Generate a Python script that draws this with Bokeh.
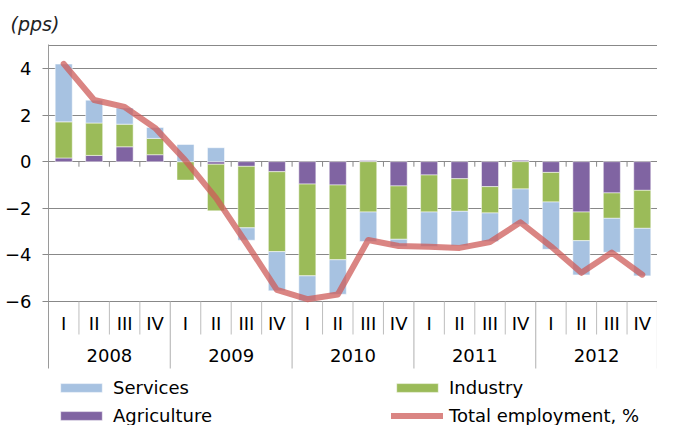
from bokeh.plotting import figure
from bokeh.models import Range1d, FixedTicker, Legend, LegendItem, ColumnDataSource
from bokeh.core.properties import value
from bokeh.embed import file_html
from bokeh.resources import INLINE

# ---------------- data ----------------
years = ["2008", "2009", "2010", "2011", "2012"]
quarters = ["I", "II", "III", "IV"]
agriculture = [0.16, 0.27, 0.64, 0.30, 0.00, -0.11, -0.20, -0.43, -0.96, -1.00,
               0.05, -1.04, -0.57, -0.73, -1.07, 0.06, -0.46, -2.16, -1.34, -1.23]
industry = [1.55, 1.39, 0.97, 0.70, -0.79, -2.00, -2.64, -3.43, -3.94, -3.21,
            -2.16, -2.29, -1.59, -1.40, -1.13, -1.17, -1.27, -1.23, -1.09, -1.63]
services = [2.48, 0.98, 0.70, 0.47, 0.74, 0.60, -0.53, -1.68, -1.07, -1.48,
            -1.27, -0.31, -1.48, -1.48, -1.23, -1.52, -2.03, -1.47, -1.46, -2.04]
total = [4.20, 2.65, 2.35, 1.45, 0.05, -1.55, -3.50, -5.50, -5.90, -5.70,
         -3.36, -3.62, -3.65, -3.70, -3.45, -2.60, -3.63, -4.77, -3.90, -4.85]
y_ticks = [-6, -4, -2, 0, 2, 4]

# ---------------- style ----------------
FONT = "DejaVu Sans"
FS = "18px"
C_SERV = "#a7c2e1"
C_IND = "#9bbb59"
C_AGR = "#8064a2"
C_TOT = "#cd5c5a"
GRID = "#888888"
SEP = "#bdbdbd"

W, H = 657, 425
BL, BT = 48, 44
FRAME_H = H - BT
PX = 23.3                      # pixels per unit
Y_TOP = 5.03
Y_BOT = Y_TOP - FRAME_H / PX

n = len(years) * len(quarters)
xc = [i + 0.5 for i in range(n)]

# stacked, positives and negatives separately
pos = [0.0] * n
neg = [0.0] * n
stacks = {}
for name, vals in [("Agriculture", agriculture), ("Industry", industry), ("Services", services)]:
    b, t = [], []
    for i, v in enumerate(vals):
        if v >= 0:
            b.append(pos[i]); t.append(pos[i] + v); pos[i] += v
        else:
            b.append(neg[i]); t.append(neg[i] + v); neg[i] += v
    stacks[name] = (b, t)

p = figure(width=W, height=H, output_backend="svg", toolbar_location=None,
           x_range=Range1d(0, n), y_range=Range1d(Y_BOT, Y_TOP),
           x_axis_location=None, min_border_left=BL, min_border_right=0,
           min_border_top=BT, min_border_bottom=0)
p.outline_line_color = None
p.background_fill_color = "white"
p.xgrid.visible = False
p.ygrid.ticker = FixedTicker(ticks=y_ticks + [5])
p.ygrid.grid_line_color = GRID
p.ygrid.grid_line_width = 1

ax = p.yaxis[0]
ax.ticker = FixedTicker(ticks=y_ticks)
ax.minor_tick_line_color = None
ax.major_tick_out = 6
ax.major_tick_in = 0
ax.major_tick_line_color = GRID
ax.axis_line_color = "#9a9a9a"
ax.major_label_text_font = FONT
ax.major_label_text_font_size = FS
ax.major_label_text_color = "black"
ax.major_label_standoff = 11

# title
p.title.text = "(pps)"
p.title.text_font = FONT
p.title.text_font_style = "italic"
p.title.text_font_size = "19px"
p.title.text_color = "#222222"
p.title.align = "left"
p.title.offset = -38
p.title.standoff = 20

# bars
colors = {"Agriculture": C_AGR, "Industry": C_IND, "Services": C_SERV}
rend = {}
for name in ["Agriculture", "Industry", "Services"]:
    b, t = stacks[name]
    rend[name] = p.vbar(x=xc, width=0.56, bottom=b, top=t, fill_color=colors[name],
                        line_color="white", line_alpha=0.5, line_width=1)

# small ticks under zero line at quarter boundaries
bnd = list(range(1, n))
p.segment(x0=bnd, x1=bnd, y0=[0] * len(bnd), y1=[-5 / PX] * len(bnd),
          line_color=GRID, line_width=1)

# total line
r_tot = p.line(xc, total, line_color=C_TOT, line_alpha=0.75, line_width=6,
               line_join="round", line_cap="round")

# category axis drawn below
Y_AX = y_ticks[0]
q_sep = [i for i in range(1, n) if i % 4]
y_sep = list(range(0, n + 1, 4))
p.segment(x0=q_sep, x1=q_sep, y0=[Y_AX] * len(q_sep), y1=[Y_AX - 33 / PX] * len(q_sep),
          line_color=SEP, line_width=1)
p.segment(x0=y_sep[1:], x1=y_sep[1:], y0=[Y_AX] * (len(y_sep) - 1),
          y1=[Y_AX - 67 / PX] * (len(y_sep) - 1), line_color=SEP, line_width=1.2)
ax.bounds = (Y_AX - 67 / PX, Y_TOP)

qlab = ColumnDataSource(dict(x=xc, y=[Y_AX - 22 / PX] * n, t=quarters * len(years)))
p.text(x="x", y="y", text="t", source=qlab, text_font=value(FONT), text_font_size=FS,
       text_align="center", text_baseline="middle", text_color="black")
ylab = ColumnDataSource(dict(x=[4 * k + 2 for k in range(len(years))],
                             y=[Y_AX - 54 / PX] * len(years), t=years))
p.text(x="x", y="y", text="t", source=ylab, text_font=value(FONT), text_font_size=FS,
       text_align="center", text_baseline="middle", text_color="black")

# legends
def mk_legend(items, x):
    lg = Legend(items=items, location=(x, -1), orientation="vertical",
                glyph_width=52, glyph_height=11, label_standoff=6, spacing=7,
                padding=0, margin=0, border_line_color=None, background_fill_alpha=0,
                label_text_font=FONT, label_text_font_size=FS, label_text_color="black",
                label_height=18)
    p.add_layout(lg, "center")

mk_legend([LegendItem(label="Services", renderers=[rend["Services"]]),
           LegendItem(label="Agriculture", renderers=[rend["Agriculture"]])], 7)
mk_legend([LegendItem(label="Industry", renderers=[rend["Industry"]]),
           LegendItem(label="Total employment, %", renderers=[r_tot])], 343)

open("out.html", "w").write(file_html(p, INLINE))
